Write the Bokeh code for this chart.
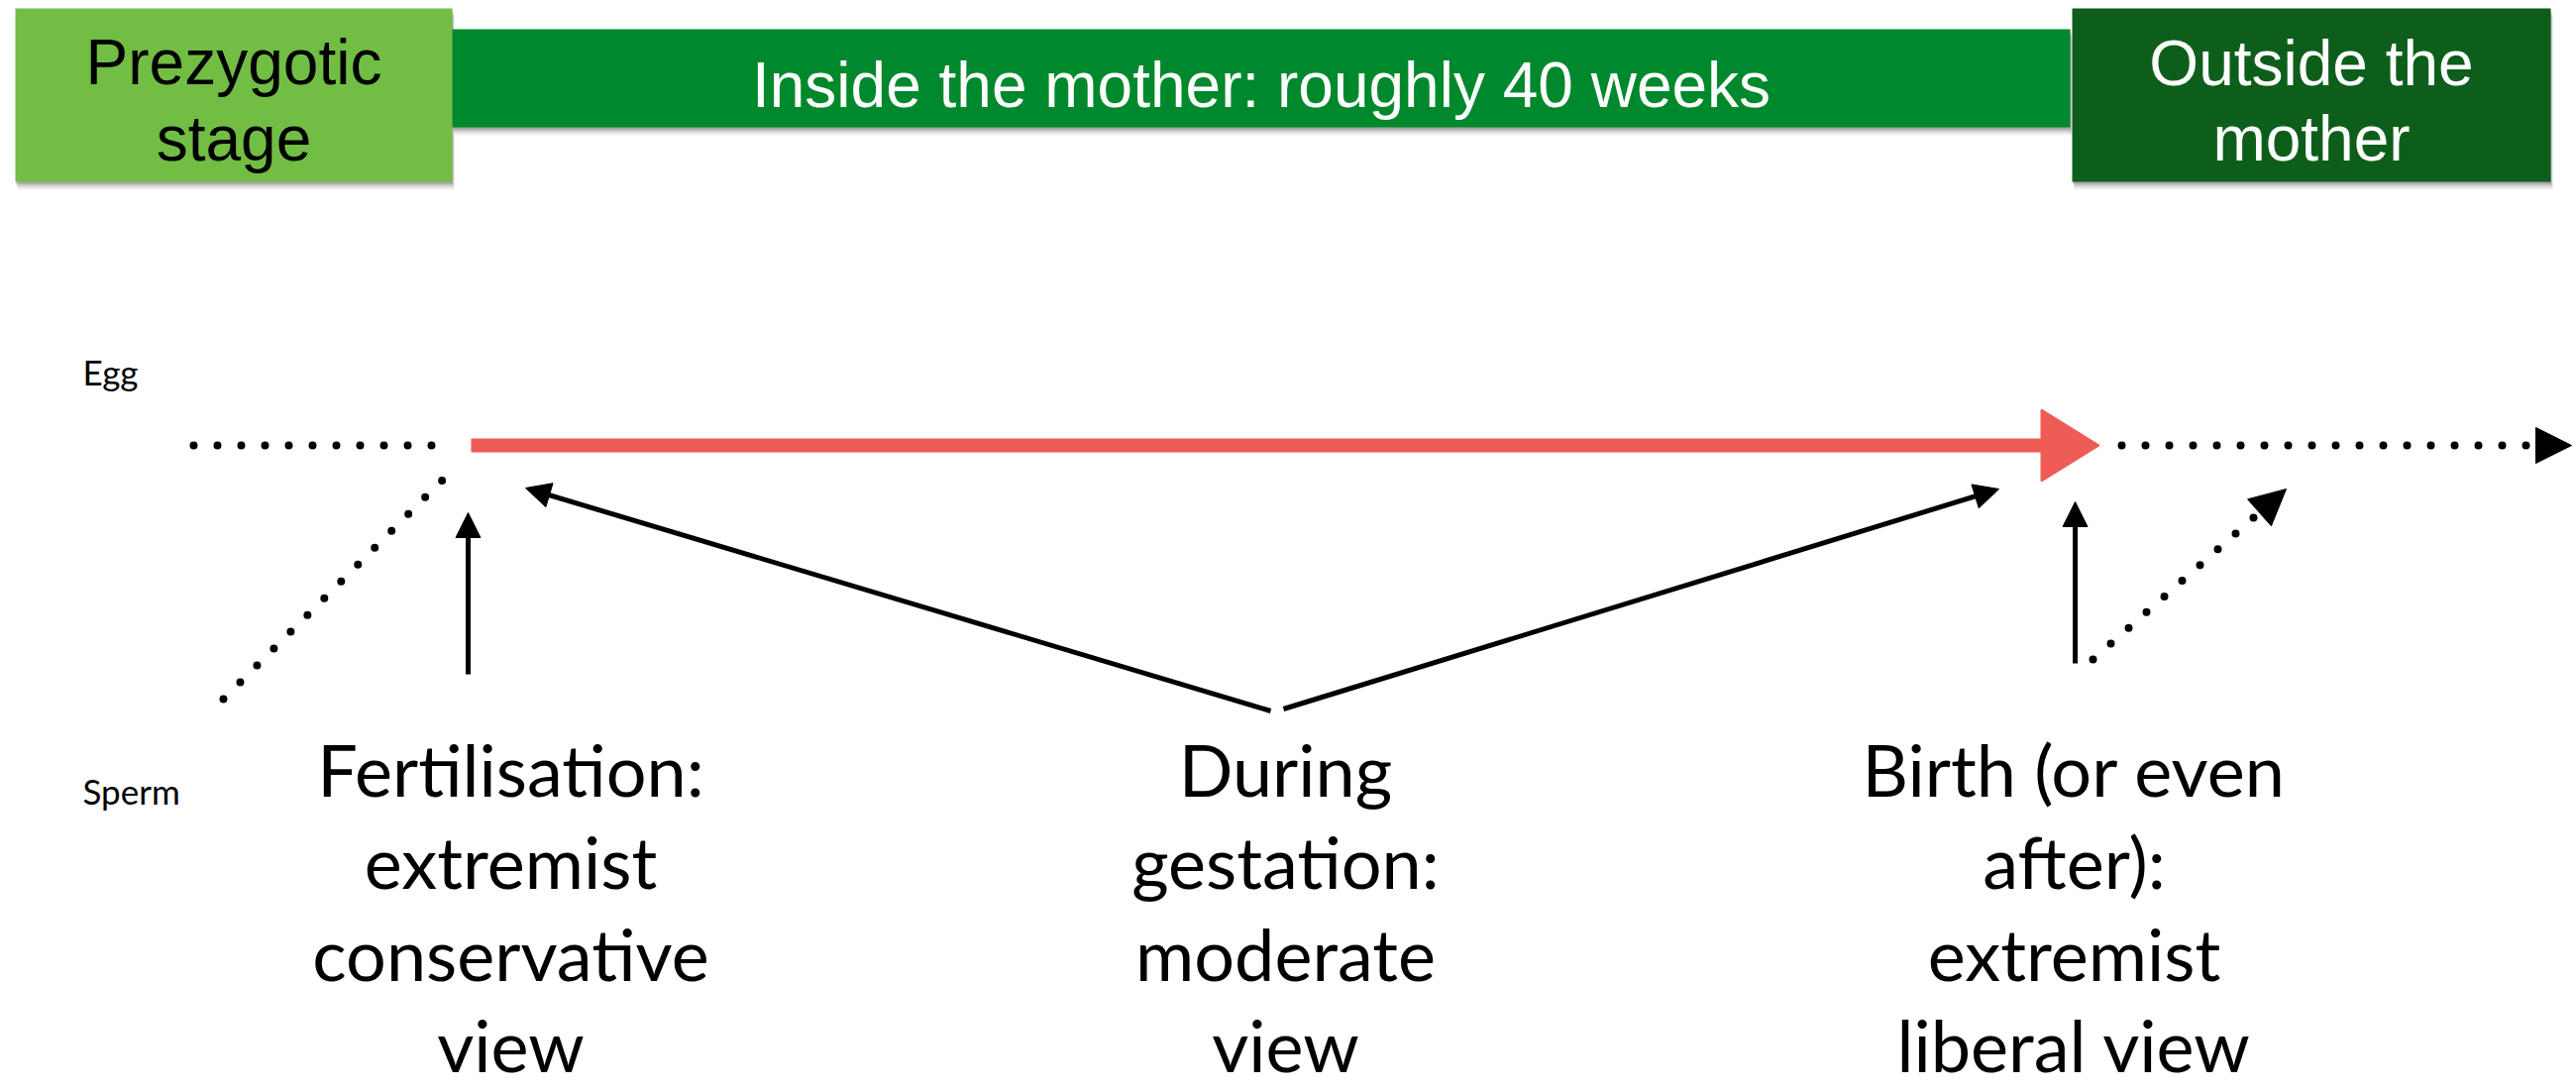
from bokeh.plotting import figure
from bokeh.models import Range1d, Arrow, NormalHead
from bokeh.core.properties import value
from bokeh.embed import file_html
from bokeh.resources import INLINE

# ---------------- data ----------------
# stage boxes along the top
box_left = [15, 456, 2091]
box_right = [456, 2089, 2574]
box_top = [8, 29, 8]
box_bottom = [183, 128, 183]
box_colors = ["#72BE44", "#00882C", "#0E5E1B"]
box_lines = [["Prezygotic", "stage"], ["Inside the mother: roughly 40 weeks"], ["Outside the", "mother"]]
box_baselines = [[82, 159], [105], [83, 159]]
box_text_colors = ["#000000", "#FFFFFF", "#FFFFFF"]

# side labels
side_labels = ["Egg", "Sperm"]
side_x = [83, 83]
side_y = [385, 808]

# timeline (red arrow): start, shaft end, tip, y, half width of head
red_x0, red_x1, red_tip, red_y, red_half = 475, 2062, 2118, 449, 36

# dotted lines (x0, y0, x1, y1)
egg_line = (195, 449, 438, 449)
sperm_line = (225, 705, 446, 484)
after_line = (2141, 449, 2595, 449)
after_diag = (2112, 665, 2307, 493)

# solid pointer arrows (x0, y0, x1, y1)
pointer_arrows = [
    (472, 680, 472, 517),
    (1282, 717, 530, 492),
    (1295, 715, 2017, 493),
    (2094, 669, 2094, 506),
]

# bottom labels
view_labels = [
    ["Fertilisation:", "extremist", "conservative", "view"],
    ["During", "gestation:", "moderate", "view"],
    ["Birth (or even", "after):", "extremist", "liberal view"],
]
view_x = [515, 1297, 2093]
view_baselines = [797, 890, 983, 1075]

# ---------------- figure ----------------
W, H = 2600, 1100
p = figure(width=W, height=H, x_range=Range1d(0, W), y_range=Range1d(H, 0),
           output_backend="svg", toolbar_location=None, min_border=0)
p.axis.visible = False
p.grid.visible = False
p.outline_line_color = None
p.background_fill_color = "white"
p.border_fill_color = "white"

BASE_FIX = 0.3  # lift for alphabetic baseline placement


def lift(ys, fs):
    return [y - BASE_FIX * fs for y in ys]


# box shadows
for off, a in [(2, 0.16), (4, 0.12), (6, 0.08), (8, 0.05)]:
    p.quad(left=[l + off * 0.3 for l in box_left], right=[r + off * 0.3 for r in box_right],
           top=[t + off for t in box_top], bottom=[b + off for b in box_bottom],
           fill_color="#000000", fill_alpha=a, line_color=None)

p.quad(left=box_left, right=box_right, top=box_top, bottom=box_bottom,
       fill_color=box_colors, line_color=None)

FS_BOX = 64
for lines, ys, l, r, c in zip(box_lines, box_baselines, box_left, box_right, box_text_colors):
    p.text(x=[(l + r) / 2] * len(lines), y=lift(ys, FS_BOX), text=lines, text_color=c,
           text_font=value("Liberation Sans"), text_font_size=f"{FS_BOX}px",
           text_align="center", text_baseline="alphabetic")

# side labels
FS_SIDE = 35
p.text(x=side_x, y=lift(side_y, FS_SIDE), text=side_labels, text_color="black",
       text_font=value("Lato"), text_font_size=f"{FS_SIDE}px",
       text_align="left", text_baseline="alphabetic")

# dotted lines
for seg in (egg_line, sperm_line):
    p.line(x=[seg[0], seg[2]], y=[seg[1], seg[3]], line_color="black", line_width=8,
           line_dash="0 24", line_cap="round")

for seg, hs in ((after_line, 36), (after_diag, 36)):
    p.add_layout(Arrow(x_start=seg[0], y_start=seg[1], x_end=seg[2], y_end=seg[3],
                       line_color="black", line_width=8, line_dash="0 24", line_cap="round",
                       end=NormalHead(size=hs, fill_color="black", line_color="black", line_width=1)))

# red timeline arrow
p.line(x=[red_x0, red_x1], y=[red_y, red_y], line_color="#EE5C55", line_width=14)
p.patch(x=[red_x1 - 2, red_x1 - 2, red_tip], y=[red_y - red_half, red_y + red_half, red_y],
        fill_color="#EE5C55", line_color="#EE5C55", line_width=2)

# solid pointer arrows
for a in pointer_arrows:
    p.add_layout(Arrow(x_start=a[0], y_start=a[1], x_end=a[2], y_end=a[3],
                       line_color="black", line_width=5,
                       end=NormalHead(size=25, fill_color="black", line_color="black", line_width=1)))

# bottom labels
FS_VIEW = 72
for lines, x in zip(view_labels, view_x):
    p.text(x=[x] * len(lines), y=lift(view_baselines, FS_VIEW), text=lines, text_color="black",
           text_font=value("Lato"), text_font_size=f"{FS_VIEW}px",
           text_align="center", text_baseline="alphabetic")

open("out.html", "w").write(file_html(p, INLINE))
